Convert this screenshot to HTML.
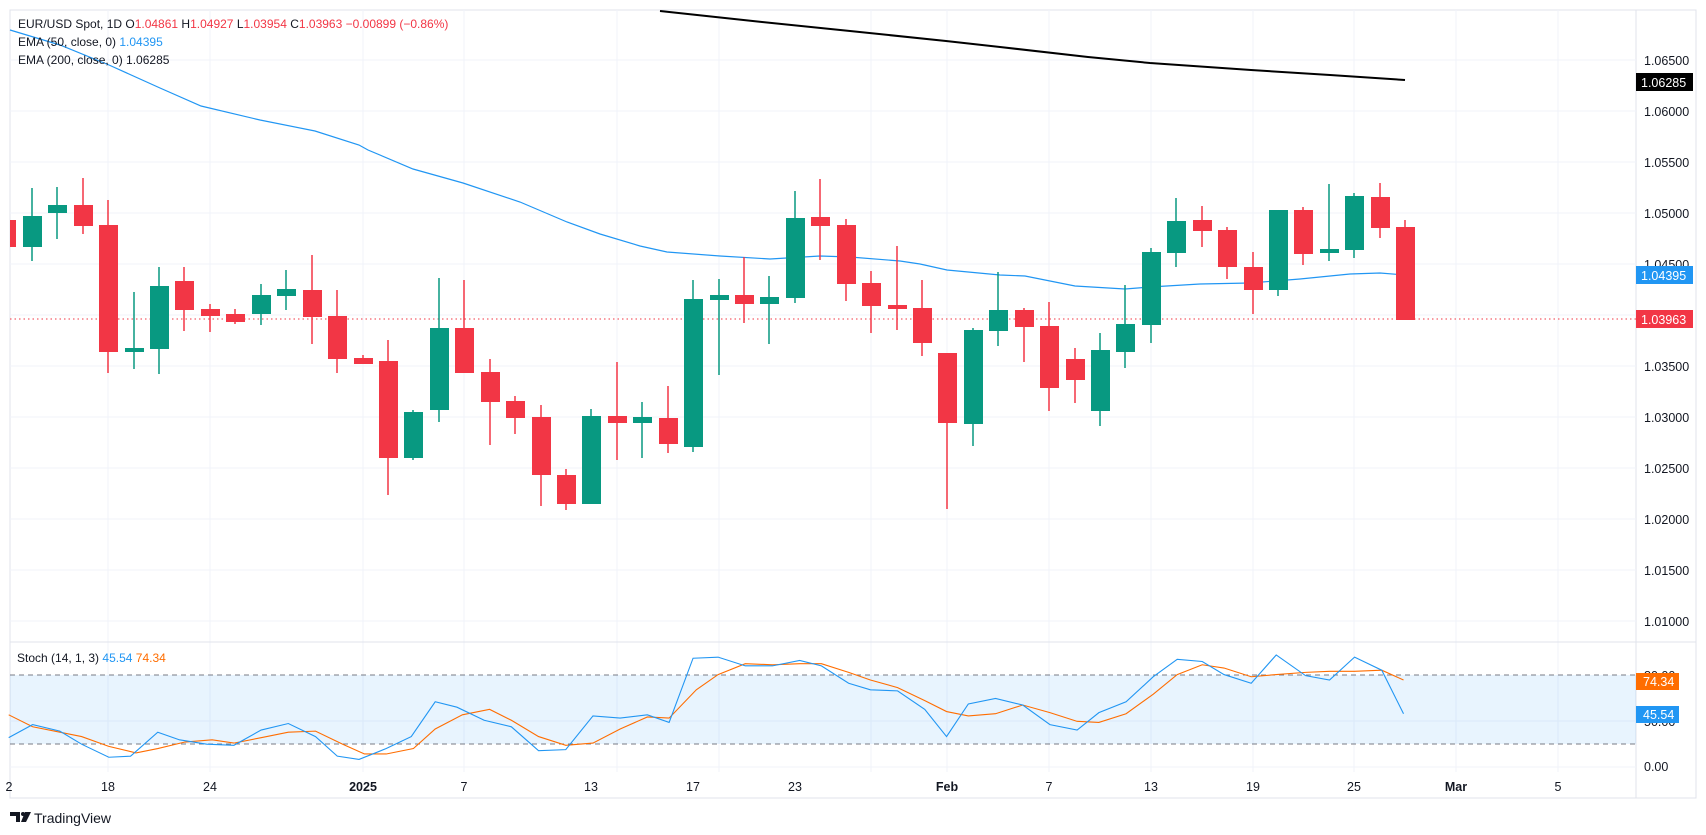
<!DOCTYPE html>
<html><head><meta charset="utf-8"><style>
html,body{margin:0;padding:0;background:#fff;}
svg{display:block;font-family:"Liberation Sans",Arial,sans-serif;}
</style></head><body>
<svg width="1706" height="835" viewBox="0 0 1706 835" xmlns="http://www.w3.org/2000/svg">
<rect width="1706" height="835" fill="#fff"/>
<!-- frame -->
<rect x="10" y="10" width="1686" height="788" fill="none" stroke="#e0e3eb" stroke-width="1"/>
<line x1="1636" y1="10" x2="1636" y2="798" stroke="#e0e3eb"/>
<!-- grid -->
<g stroke="#f0f3fa" stroke-width="1">
<line x1="10" x2="1636" y1="60" y2="60"/><line x1="10" x2="1636" y1="111" y2="111"/><line x1="10" x2="1636" y1="162" y2="162"/><line x1="10" x2="1636" y1="213" y2="213"/><line x1="10" x2="1636" y1="264" y2="264"/><line x1="10" x2="1636" y1="315" y2="315"/><line x1="10" x2="1636" y1="366" y2="366"/><line x1="10" x2="1636" y1="417" y2="417"/><line x1="10" x2="1636" y1="468" y2="468"/><line x1="10" x2="1636" y1="519" y2="519"/><line x1="10" x2="1636" y1="570" y2="570"/><line x1="10" x2="1636" y1="621" y2="621"/>
<line x1="108" x2="108" y1="10" y2="772"/><line x1="210" x2="210" y1="10" y2="772"/><line x1="363" x2="363" y1="10" y2="772"/><line x1="464" x2="464" y1="10" y2="772"/><line x1="617" x2="617" y1="10" y2="772"/><line x1="719" x2="719" y1="10" y2="772"/><line x1="871" x2="871" y1="10" y2="772"/><line x1="947" x2="947" y1="10" y2="772"/><line x1="1049" x2="1049" y1="10" y2="772"/><line x1="1151" x2="1151" y1="10" y2="772"/><line x1="1253" x2="1253" y1="10" y2="772"/><line x1="1354" x2="1354" y1="10" y2="772"/><line x1="1456" x2="1456" y1="10" y2="772"/><line x1="1558" x2="1558" y1="10" y2="772"/>
<line x1="10" x2="1636" y1="767" y2="767"/>
<line x1="10" x2="1636" y1="721" y2="721"/>
</g>
<line x1="10" x2="1696" y1="642" y2="642" stroke="#e0e3eb"/>
<!-- EMA200 -->
<polyline fill="none" stroke="#000" stroke-width="2" points="660,11 762,22 850,31 946,41 1000,47 1088,57 1150,63 1251,70 1330,75 1405,80"/>
<!-- EMA50 -->
<polyline fill="none" stroke="#2196f3" stroke-width="1.2" points="10,30 60,45 109,65 160,88 201,106 260,120 315,131 359,145 368,150 413,169 463,183 520,202 567,222 600,234 640,246 667,252 720,256 770,259 820,256 850,257 900,261 920,264 947,270 1000,275 1025,276 1075,286 1125,289 1150,287 1200,284 1250,283 1300,279 1350,274 1380,273 1405,275"/>
<!-- last price line -->
<line x1="10" x2="1636" y1="319" y2="319" stroke="#f23645" stroke-dasharray="1.5 3"/>
<!-- candles -->
<g stroke-width="1.5">
<g fill="#f23645" stroke="#f23645">
<rect x="10" y="220" width="6" height="27" stroke="none"/>
<line x1="83" x2="83" y1="178" y2="234"/><rect x="74" y="205" width="19" height="21" stroke="none"/>
<line x1="108" x2="108" y1="200" y2="373"/><rect x="99" y="225" width="19" height="127" stroke="none"/>
<line x1="184" x2="184" y1="267" y2="331"/><rect x="175" y="281" width="19" height="29" stroke="none"/>
<line x1="210" x2="210" y1="304" y2="332"/><rect x="201" y="309" width="19" height="7" stroke="none"/>
<line x1="235" x2="235" y1="309" y2="324"/><rect x="226" y="314" width="19" height="8" stroke="none"/>
<line x1="312" x2="312" y1="255" y2="344"/><rect x="303" y="290" width="19" height="27" stroke="none"/>
<line x1="337" x2="337" y1="290" y2="373"/><rect x="328" y="316" width="19" height="43" stroke="none"/>
<line x1="363" x2="363" y1="355" y2="364"/><rect x="354" y="358" width="19" height="6" stroke="none"/>
<line x1="388" x2="388" y1="340" y2="495"/><rect x="379" y="361" width="19" height="97" stroke="none"/>
<line x1="464" x2="464" y1="280" y2="373"/><rect x="455" y="328" width="19" height="45" stroke="none"/>
<line x1="490" x2="490" y1="359" y2="445"/><rect x="481" y="372" width="19" height="30" stroke="none"/>
<line x1="515" x2="515" y1="396" y2="434"/><rect x="506" y="401" width="19" height="17" stroke="none"/>
<line x1="541" x2="541" y1="405" y2="506"/><rect x="532" y="417" width="19" height="58" stroke="none"/>
<line x1="566" x2="566" y1="469" y2="510"/><rect x="557" y="475" width="19" height="29" stroke="none"/>
<line x1="617" x2="617" y1="362" y2="460"/><rect x="608" y="416" width="19" height="7" stroke="none"/>
<line x1="668" x2="668" y1="386" y2="453"/><rect x="659" y="418" width="19" height="26" stroke="none"/>
<line x1="744" x2="744" y1="257" y2="323"/><rect x="735" y="295" width="19" height="9" stroke="none"/>
<line x1="820" x2="820" y1="179" y2="260"/><rect x="811" y="217" width="19" height="9" stroke="none"/>
<line x1="846" x2="846" y1="219" y2="301"/><rect x="837" y="225" width="19" height="59" stroke="none"/>
<line x1="871" x2="871" y1="271" y2="333"/><rect x="862" y="283" width="19" height="23" stroke="none"/>
<line x1="897" x2="897" y1="246" y2="330"/><rect x="888" y="305" width="19" height="4" stroke="none"/>
<line x1="922" x2="922" y1="280" y2="356"/><rect x="913" y="308" width="19" height="35" stroke="none"/>
<line x1="947" x2="947" y1="353" y2="509"/><rect x="938" y="353" width="19" height="70" stroke="none"/>
<line x1="1024" x2="1024" y1="308" y2="362"/><rect x="1015" y="310" width="19" height="17" stroke="none"/>
<line x1="1049" x2="1049" y1="302" y2="411"/><rect x="1040" y="326" width="19" height="62" stroke="none"/>
<line x1="1075" x2="1075" y1="348" y2="403"/><rect x="1066" y="359" width="19" height="21" stroke="none"/>
<line x1="1202" x2="1202" y1="206" y2="247"/><rect x="1193" y="220" width="19" height="11" stroke="none"/>
<line x1="1227" x2="1227" y1="227" y2="279"/><rect x="1218" y="230" width="19" height="37" stroke="none"/>
<line x1="1253" x2="1253" y1="252" y2="314"/><rect x="1244" y="267" width="19" height="23" stroke="none"/>
<line x1="1303" x2="1303" y1="207" y2="265"/><rect x="1294" y="210" width="19" height="44" stroke="none"/>
<line x1="1380" x2="1380" y1="183" y2="238"/><rect x="1371" y="197" width="19" height="31" stroke="none"/>
<line x1="1405" x2="1405" y1="220" y2="320"/><rect x="1396" y="227" width="19" height="93" stroke="none"/>
</g>
<g fill="#089981" stroke="#089981">
<line x1="32" x2="32" y1="188" y2="261"/><rect x="23" y="216" width="19" height="31" stroke="none"/>
<line x1="57" x2="57" y1="187" y2="239"/><rect x="48" y="205" width="19" height="8" stroke="none"/>
<line x1="134" x2="134" y1="292" y2="369"/><rect x="125" y="348" width="19" height="4" stroke="none"/>
<line x1="159" x2="159" y1="267" y2="374"/><rect x="150" y="286" width="19" height="63" stroke="none"/>
<line x1="261" x2="261" y1="284" y2="325"/><rect x="252" y="295" width="19" height="19" stroke="none"/>
<line x1="286" x2="286" y1="270" y2="310"/><rect x="277" y="289" width="19" height="7" stroke="none"/>
<line x1="413" x2="413" y1="410" y2="460"/><rect x="404" y="412" width="19" height="46" stroke="none"/>
<line x1="439" x2="439" y1="278" y2="422"/><rect x="430" y="328" width="19" height="82" stroke="none"/>
<line x1="591" x2="591" y1="409" y2="504"/><rect x="582" y="416" width="19" height="88" stroke="none"/>
<line x1="642" x2="642" y1="402" y2="458"/><rect x="633" y="417" width="19" height="6" stroke="none"/>
<line x1="693" x2="693" y1="280" y2="452"/><rect x="684" y="299" width="19" height="148" stroke="none"/>
<line x1="719" x2="719" y1="279" y2="375"/><rect x="710" y="295" width="19" height="5" stroke="none"/>
<line x1="769" x2="769" y1="276" y2="344"/><rect x="760" y="297" width="19" height="7" stroke="none"/>
<line x1="795" x2="795" y1="191" y2="303"/><rect x="786" y="218" width="19" height="80" stroke="none"/>
<line x1="973" x2="973" y1="328" y2="446"/><rect x="964" y="330" width="19" height="94" stroke="none"/>
<line x1="998" x2="998" y1="272" y2="346"/><rect x="989" y="310" width="19" height="21" stroke="none"/>
<line x1="1100" x2="1100" y1="333" y2="426"/><rect x="1091" y="350" width="19" height="61" stroke="none"/>
<line x1="1125" x2="1125" y1="285" y2="368"/><rect x="1116" y="324" width="19" height="28" stroke="none"/>
<line x1="1151" x2="1151" y1="248" y2="343"/><rect x="1142" y="252" width="19" height="73" stroke="none"/>
<line x1="1176" x2="1176" y1="198" y2="267"/><rect x="1167" y="221" width="19" height="32" stroke="none"/>
<line x1="1278" x2="1278" y1="210" y2="296"/><rect x="1269" y="210" width="19" height="80" stroke="none"/>
<line x1="1329" x2="1329" y1="184" y2="261"/><rect x="1320" y="249" width="19" height="4" stroke="none"/>
<line x1="1354" x2="1354" y1="193" y2="258"/><rect x="1345" y="196" width="19" height="54" stroke="none"/>
</g>
</g>
<!-- stoch pane -->
<rect x="10" y="675" width="1626" height="69" fill="#2196f3" fill-opacity="0.1"/>
<line x1="10" x2="1636" y1="675" y2="675" stroke="#787b86" stroke-dasharray="5 4"/>
<line x1="10" x2="1636" y1="744" y2="744" stroke="#787b86" stroke-dasharray="5 4"/>
<g transform="scale(1.088)">
<polyline fill="none" stroke="#ff6d00" stroke-width="1.1" vector-effect="non-scaling-stroke" points="8,657 30,668 55,673 75,677 100,686 125,692 145,688 170,682 195,680 215,683 240,678 265,673 290,672 315,684 335,693 355,693 380,688 400,670 425,657 450,652 470,662 495,677 520,685 545,683 570,670 595,659 615,660 640,634 660,620 685,610 710,611 735,610 755,610 780,618 800,625 825,632 850,644 870,654 890,658 915,656 940,648 965,655 990,663 1010,664 1035,656 1060,638 1082,620 1105,611 1125,614 1150,622 1173,620 1200,618 1222,617 1245,617 1270,616 1290,625"/>
<polyline fill="none" stroke="#2196f3" stroke-width="1.1" vector-effect="non-scaling-stroke" points="8,678 30,666 55,672 75,684 100,696 120,695 145,673 165,680 190,684 215,685 240,671 265,665 290,677 310,695 330,698 355,688 378,677 400,645 420,650 445,662 470,668 495,690 520,689 545,658 570,660 595,657 615,664 637,605 660,604 685,612 710,612 735,607 755,612 780,628 800,634 825,635 850,652 870,677 890,647 915,642 940,648 965,666 990,671 1010,655 1035,645 1060,622 1082,606 1105,608 1125,620 1150,628 1173,602 1200,621 1222,625 1245,604 1270,616 1290,656"/>
</g>
<!-- legend -->
<g font-size="12" fill="#131722" xml:space="preserve">
<text x="18" y="28">EUR/USD Spot, 1D  O<tspan fill="#f23645">1.04861</tspan>  H<tspan fill="#f23645">1.04927</tspan>  L<tspan fill="#f23645">1.03954</tspan>  C<tspan fill="#f23645">1.03963</tspan>  <tspan fill="#f23645">−0.00899 (−0.86%)</tspan></text>
<text x="18" y="46">EMA (50, close, 0)  <tspan fill="#2196f3">1.04395</tspan></text>
<text x="18" y="64">EMA (200, close, 0)  1.06285</text>
<text x="17" y="662">Stoch (14, 1, 3)  <tspan fill="#2196f3">45.54</tspan>  <tspan fill="#ff6d00">74.34</tspan></text>
</g>
<!-- price axis -->
<g font-size="12.5" fill="#131722">
<text x="1644" y="65">1.06500</text>
<text x="1644" y="116">1.06000</text>
<text x="1644" y="167">1.05500</text>
<text x="1644" y="218">1.05000</text>
<text x="1644" y="269">1.04500</text>
<text x="1644" y="371">1.03500</text>
<text x="1644" y="422">1.03000</text>
<text x="1644" y="473">1.02500</text>
<text x="1644" y="524">1.02000</text>
<text x="1644" y="575">1.01500</text>
<text x="1644" y="626">1.01000</text>
<text x="1644" y="680">80.00</text>
<text x="1644" y="726">50.00</text>
<text x="1644" y="771">0.00</text>
</g>
<rect x="1636" y="73" width="57" height="18" fill="#000"/>
<text x="1641" y="87" font-size="12.5" fill="#fff">1.06285</text>
<rect x="1636" y="266" width="57" height="18" fill="#2196f3"/>
<text x="1641" y="280" font-size="12.5" fill="#fff">1.04395</text>
<rect x="1636" y="310" width="57" height="18" fill="#f23645"/>
<text x="1641" y="324" font-size="12.5" fill="#fff">1.03963</text>
<rect x="1636" y="673" width="43" height="17" fill="#ff6d00"/>
<text x="1643" y="686" font-size="12.5" fill="#fff">74.34</text>
<rect x="1636" y="706" width="43" height="17" fill="#2196f3"/>
<text x="1643" y="719" font-size="12.5" fill="#fff">45.54</text>
<!-- time axis -->
<g font-size="12.5" fill="#131722" text-anchor="middle">
<text x="9" y="791">2</text>
<text x="108" y="791">18</text>
<text x="210" y="791">24</text>
<text x="363" y="791" font-weight="bold">2025</text>
<text x="464" y="791">7</text>
<text x="591" y="791">13</text>
<text x="693" y="791">17</text>
<text x="795" y="791">23</text>
<text x="947" y="791" font-weight="bold">Feb</text>
<text x="1049" y="791">7</text>
<text x="1151" y="791">13</text>
<text x="1253" y="791">19</text>
<text x="1354" y="791">25</text>
<text x="1456" y="791" font-weight="bold">Mar</text>
<text x="1558" y="791">5</text>
</g>
<!-- logo -->
<g fill="#131722">
<path d="M10,812 h10 v10 h-4 v-6 h-6z"/><circle cx="23" cy="814" r="2"/><path d="M25,812 h6 l-5,10 h-5z"/>
<text x="34" y="823" font-size="14">TradingView</text>
</g>
</svg>
</body></html>
